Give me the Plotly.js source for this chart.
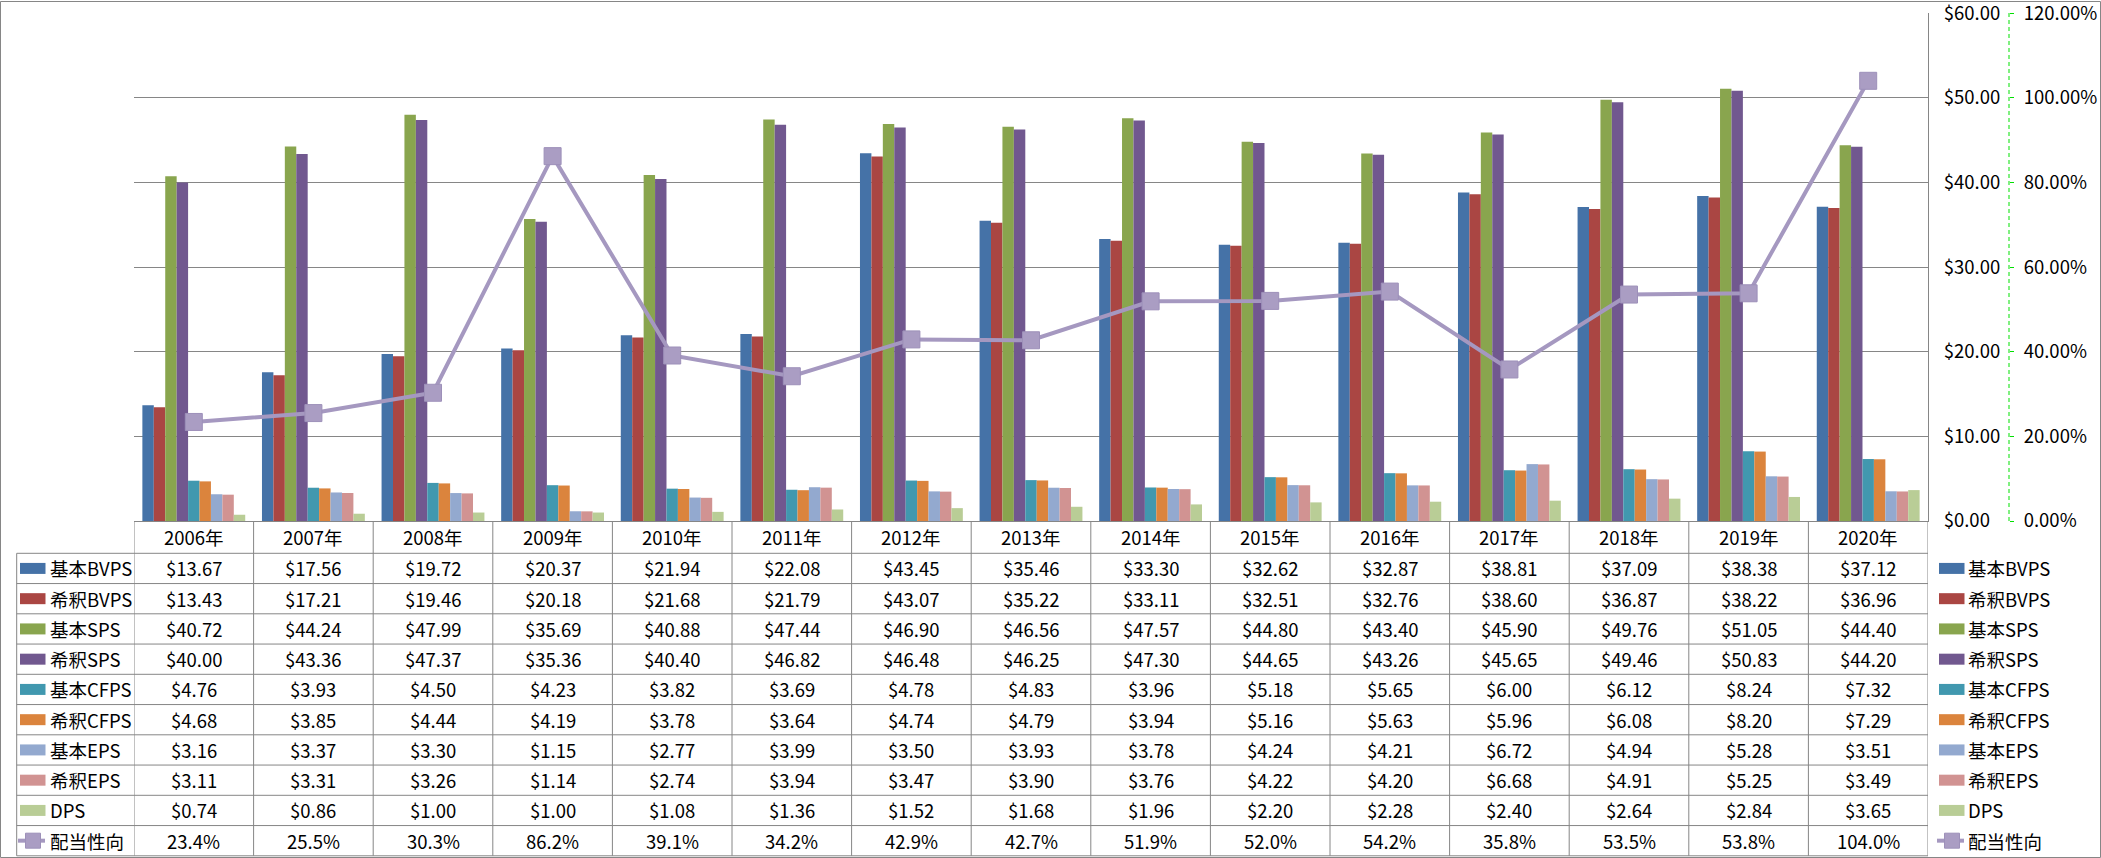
<!DOCTYPE html>
<html>
<head>
<meta charset="utf-8">
<script src="https://cdn.plot.ly/plotly-3.0.1.min.js"></script>
<style>
  html, body { margin: 0; padding: 0; background: #fff; }
  #chart { width: 2101px; height: 858px; }
</style>
</head>
<body>
<div id="chart"></div>
<script>
const years = ['2006年', '2007年', '2008年', '2009年', '2010年', '2011年', '2012年', '2013年',
  '2014年', '2015年', '2016年', '2017年', '2018年', '2019年', '2020年'];

const basicBVPS = [13.67, 17.56, 19.72, 20.37, 21.94, 22.08, 43.45, 35.46, 33.30, 32.62, 32.87, 38.81, 37.09, 38.38, 37.12];
const dilBVPS   = [13.43, 17.21, 19.46, 20.18, 21.68, 21.79, 43.07, 35.22, 33.11, 32.51, 32.76, 38.60, 36.87, 38.22, 36.96];
const basicSPS  = [40.72, 44.24, 47.99, 35.69, 40.88, 47.44, 46.90, 46.56, 47.57, 44.80, 43.40, 45.90, 49.76, 51.05, 44.40];
const dilSPS    = [40.00, 43.36, 47.37, 35.36, 40.40, 46.82, 46.48, 46.25, 47.30, 44.65, 43.26, 45.65, 49.46, 50.83, 44.20];
const basicCFPS = [4.76, 3.93, 4.50, 4.23, 3.82, 3.69, 4.78, 4.83, 3.96, 5.18, 5.65, 6.00, 6.12, 8.24, 7.32];
const dilCFPS   = [4.68, 3.85, 4.44, 4.19, 3.78, 3.64, 4.74, 4.79, 3.94, 5.16, 5.63, 5.96, 6.08, 8.20, 7.29];
const basicEPS  = [3.16, 3.37, 3.30, 1.15, 2.77, 3.99, 3.50, 3.93, 3.78, 4.24, 4.21, 6.72, 4.94, 5.28, 3.51];
const dilEPS    = [3.11, 3.31, 3.26, 1.14, 2.74, 3.94, 3.47, 3.90, 3.76, 4.22, 4.20, 6.68, 4.91, 5.25, 3.49];
const dps       = [0.74, 0.86, 1.00, 1.00, 1.08, 1.36, 1.52, 1.68, 1.96, 2.20, 2.28, 2.40, 2.64, 2.84, 3.65];
const payout    = [23.4, 25.5, 30.3, 86.2, 39.1, 34.2, 42.9, 42.7, 51.9, 52.0, 54.2, 35.8, 53.5, 53.8, 104.0];

const barNames = ['基本BVPS', '希釈BVPS', '基本SPS', '希釈SPS', '基本CFPS', '希釈CFPS', '基本EPS', '希釈EPS', 'DPS'];
const barSeries = [basicBVPS, dilBVPS, basicSPS, dilSPS, basicCFPS, dilCFPS, basicEPS, dilEPS, dps];
const lineName = '配当性向';

// axis ticks
const moneyTicks = [0, 10, 20, 30, 40, 50, 60];
const ratioTicks = [0, 0.2, 0.4, 0.6, 0.8, 1.0, 1.2];

const barColors = ['#4572A7', '#AA4643', '#89A54E', '#71588F', '#4198AF', '#DB843D', '#93A9CF', '#D19392', '#B9CD96'];
const lineColor = '#A598C0';
const gridColor = '#868686';
const FONT = "'Noto Sans CJK JP', 'Noto Sans', sans-serif";

// pixel helpers (figure is 2101 x 858)
const W = 2101, H = 858;
const M = {l: 134, r: 92, t: 13, b: 337};
const PW = W - M.l - M.r;
const PH = H - M.t - M.b;
const px = v => (v - M.l) / PW;
const py = v => (H - M.b - v) / PH;
const plotRight = 1928;
const tableTop = H - M.b;
const row0 = 553.3, rowH = 30.25, nRows = 10;
const tableBottom = row0 + nRows * rowH;

const traces = barSeries.map((vals, k) => ({
  type: 'bar',
  name: barNames[k],
  x: years,
  y: vals,
  marker: {color: barColors[k], line: {width: 0}},
  showlegend: false,
  hoverinfo: 'skip'
}));

traces.push({
  type: 'scatter',
  mode: 'lines+markers',
  name: lineName,
  x: years,
  y: payout.map(v => v / 100),
  yaxis: 'y2',
  line: {color: lineColor, width: 4},
  marker: {symbol: 'square', size: 17, color: '#AA9DC3', line: {color: '#9D90B9', width: 1}},
  showlegend: false,
  hoverinfo: 'skip'
});

const lineStyle = {color: gridColor, width: 1};
const shapes = [];
const annotations = [];
const txtFont = {family: FONT, size: 18.5, color: '#000'};

// outer chart border
shapes.push({type: 'rect', xref: 'paper', yref: 'paper',
  x0: px(0.5), x1: px(2100.5), y0: py(1.5), y1: py(857.5), line: lineStyle});

// dashed green secondary axis line
shapes.push({type: 'line', xref: 'paper', yref: 'paper', x0: 1, x1: 1, y0: 0, y1: 1,
  line: {color: '#00E000', width: 1, dash: '4px,3px'}});

// table vertical lines at category boundaries
for (let i = 0; i <= years.length; i++) {
  shapes.push({type: 'line', xref: 'x', yref: 'paper', x0: i - 0.5, x1: i - 0.5,
    y0: py(tableTop), y1: py(tableBottom), line: lineStyle});
}
// left edge of the legend column
shapes.push({type: 'line', xref: 'paper', yref: 'paper', x0: px(16.7), x1: px(16.7),
  y0: py(row0), y1: py(tableBottom), line: lineStyle});
// horizontal row lines
for (let k = 0; k <= nRows; k++) {
  const yy = py(row0 + k * rowH);
  shapes.push({type: 'line', xref: 'paper', yref: 'paper', x0: px(16.7), x1: px(plotRight),
    y0: yy, y1: yy, line: lineStyle});
}

// header row: years
years.forEach((yr, i) => {
  annotations.push({xref: 'x', yref: 'paper', x: i, y: py((tableTop + row0) / 2), text: yr,
    showarrow: false, xanchor: 'center', yanchor: 'middle', font: txtFont});
});

// value cells
const rowVals = barSeries.map(vals => vals.map(v => '$' + v.toFixed(2)));
rowVals.push(payout.map(v => v.toFixed(1) + '%'));
rowVals.forEach((cells, k) => {
  const yc = py(row0 + k * rowH + rowH / 2);
  cells.forEach((t, i) => {
    annotations.push({xref: 'x', yref: 'paper', x: i, y: yc, text: t,
      showarrow: false, xanchor: 'center', yanchor: 'middle', font: txtFont});
  });
});

// legend keys, once inside the table and once on the right
const legendNames = barNames.concat([lineName]);
[{sw: 20, tx: 48}, {sw: 1939, tx: 1966}].forEach(pos => {
  legendNames.forEach((nm, k) => {
    const yc = row0 + k * rowH + rowH / 2;
    if (k < barNames.length) {
      shapes.push({type: 'rect', xref: 'paper', yref: 'paper', x0: px(pos.sw), x1: px(pos.sw + 25.5),
        y0: py(yc - 5.5), y1: py(yc + 5.5), fillcolor: barColors[k], line: {width: 0}});
    } else {
      shapes.push({type: 'line', xref: 'paper', yref: 'paper', x0: px(pos.sw - 2), x1: px(pos.sw + 25),
        y0: py(yc), y1: py(yc), line: {color: lineColor, width: 4}});
      shapes.push({type: 'rect', xref: 'paper', yref: 'paper', x0: px(pos.sw + 5.5), x1: px(pos.sw + 20.5),
        y0: py(yc - 7.5), y1: py(yc + 7.5), fillcolor: '#AA9DC3', line: {color: '#9D90B9', width: 1}});
    }
    annotations.push({xref: 'paper', yref: 'paper', x: px(pos.tx), y: py(yc), text: nm,
      showarrow: false, xanchor: 'left', yanchor: 'middle', font: txtFont});
  });
});

const layout = {
  width: W,
  height: H,
  margin: M,
  paper_bgcolor: '#fff',
  plot_bgcolor: '#fff',
  font: {family: FONT, size: 18.5, color: '#000'},
  barmode: 'group',
  bargap: 0.14,
  bargroupgap: 0,
  showlegend: false,
  hovermode: false,
  xaxis: {
    domain: [0, px(plotRight)],
    type: 'category',
    range: [-0.5, years.length - 0.5],
    autorange: false,
    showticklabels: false,
    ticks: '',
    showgrid: false,
    showline: true,
    linecolor: gridColor,
    linewidth: 1,
    zeroline: false,
    fixedrange: true
  },
  yaxis: {
    side: 'right',
    range: [0, 60.01],
    autorange: false,
    tickmode: 'array',
    tickvals: moneyTicks,
    ticktext: moneyTicks.map(v => '$' + v.toFixed(2)),
    ticks: '',
    ticklabelstandoff: 11,
    ticklabeloverflow: 'allow',
    showgrid: true,
    gridcolor: gridColor,
    gridwidth: 1,
    showline: true,
    linecolor: gridColor,
    zeroline: false,
    tickfont: {family: FONT, size: 18.5, color: '#000'},
    fixedrange: true
  },
  yaxis2: {
    overlaying: 'y',
    side: 'right',
    anchor: 'free',
    position: 1,
    range: [0, 1.2002],
    autorange: false,
    tickmode: 'array',
    tickvals: ratioTicks,
    ticktext: ratioTicks.map(v => (v * 100).toFixed(2) + '%'),
    ticks: 'outside',
    ticklen: 4,
    tickcolor: '#00E000',
    ticklabelstandoff: 6,
    ticklabeloverflow: 'allow',
    showgrid: false,
    showline: false,
    zeroline: false,
    tickfont: {family: FONT, size: 18.5, color: '#000'},
    fixedrange: true
  },
  shapes: shapes,
  annotations: annotations
};

Plotly.newPlot('chart', traces, layout, {displayModeBar: false, staticPlot: true});
</script>
</body>
</html>
